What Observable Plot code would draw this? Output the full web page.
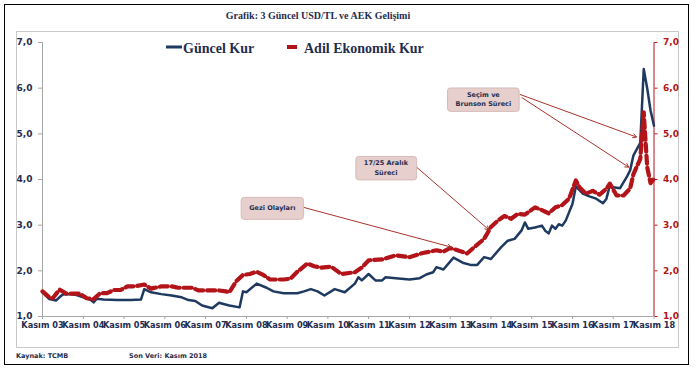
<!DOCTYPE html>
<html><head><meta charset="utf-8">
<script src="https://cdn.jsdelivr.net/npm/d3@7"></script>
<script src="https://cdn.jsdelivr.net/npm/@observablehq/plot@0.6"></script>
<style>
body{margin:0;background:#fff;}
#wrap{position:relative;width:698px;height:370px;overflow:hidden;background:#fff;}
#chart,#overlay{position:absolute;left:0;top:0;}
.outer{position:absolute;left:4px;top:4px;width:685px;height:361px;border:1.5px solid #000;box-sizing:border-box;pointer-events:none;}
.inner{position:absolute;left:16px;top:31px;width:663px;height:317px;border:1px solid #c8c8c8;box-sizing:border-box;pointer-events:none;}
</style></head>
<body>
<div id="wrap">
  <div class="inner"></div>
  <div id="chart"></div>
  <svg id="overlay" width="698" height="370"></svg>
  <div class="outer"></div>
</div>
<script>
// ---- data ----
const kurMonths = ["2003-11","2004-01","2004-03","2004-04","2004-05","2004-07","2004-09","2004-11","2005-01","2005-02","2005-03","2005-05","2005-09","2006-01","2006-04","2006-05","2006-07","2006-10","2007-01","2007-04","2007-06","2007-08","2007-10","2008-01","2008-03","2008-04","2008-06","2008-09","2008-10","2008-11","2009-02","2009-05","2009-07","2009-10","2010-02","2010-04","2010-06","2010-08","2010-10","2011-01","2011-04","2011-07","2011-08","2011-09","2011-11","2012-01","2012-03","2012-04","2012-07","2012-11","2013-02","2013-04","2013-06","2013-07","2013-09","2013-12","2014-03","2014-05","2014-07","2014-09","2014-11","2015-02","2015-04","2015-06","2015-08","2015-09","2015-10","2015-12","2016-02","2016-03","2016-04","2016-05","2016-06","2016-07","2016-08","2016-09","2016-11","2016-12","2017-02","2017-04","2017-06","2017-08","2017-09","2017-10","2017-11","2018-01","2018-03","2018-04","2018-05","2018-07","2018-08","2018-09","2018-10","2018-11"];
const kurValues = [1.53,1.38,1.35,1.42,1.48,1.49,1.47,1.42,1.37,1.31,1.39,1.37,1.36,1.36,1.37,1.60,1.53,1.49,1.46,1.42,1.36,1.34,1.24,1.18,1.30,1.28,1.24,1.20,1.55,1.53,1.72,1.63,1.55,1.51,1.51,1.55,1.60,1.55,1.46,1.60,1.53,1.72,1.86,1.79,1.93,1.79,1.79,1.86,1.84,1.81,1.84,1.92,1.97,2.08,2.03,2.29,2.17,2.13,2.13,2.30,2.26,2.52,2.66,2.70,2.88,3.06,2.92,2.95,2.99,2.88,2.82,2.99,2.92,3.02,2.99,3.10,3.47,3.85,3.69,3.63,3.58,3.48,3.58,3.87,3.83,3.81,4.05,4.20,4.53,4.80,6.42,6.00,5.51,5.18];

const aekMonths = ["2003-11","2004-01","2004-02","2004-04","2004-06","2004-10","2004-12","2005-02","2005-04","2005-06","2005-08","2005-10","2005-12","2006-02","2006-05","2006-07","2006-10","2007-01","2007-03","2007-07","2007-09","2008-03","2008-05","2008-06","2008-08","2008-10","2008-12","2009-02","2009-04","2009-06","2009-10","2009-12","2010-02","2010-05","2010-07","2010-09","2010-12","2011-03","2011-07","2011-09","2011-11","2012-03","2012-07","2012-11","2013-03","2013-07","2013-09","2013-11","2014-02","2014-04","2014-06","2014-09","2014-11","2015-01","2015-03","2015-05","2015-07","2015-09","2015-12","2016-02","2016-04","2016-06","2016-08","2016-10","2016-12","2017-01","2017-03","2017-05","2017-07","2017-09","2017-10","2017-12","2018-02","2018-04","2018-05","2018-07","2018-08","2018-09","2018-10","2018-11"];
const aekValues = [1.55,1.42,1.40,1.59,1.50,1.50,1.40,1.38,1.51,1.51,1.58,1.58,1.66,1.66,1.70,1.61,1.66,1.66,1.63,1.63,1.57,1.57,1.55,1.53,1.77,1.91,1.93,1.98,1.91,1.81,1.81,1.83,1.98,2.16,2.10,2.07,2.09,1.93,1.97,2.07,2.23,2.25,2.34,2.30,2.39,2.45,2.42,2.50,2.43,2.38,2.51,2.70,2.96,3.10,3.20,3.14,3.25,3.23,3.39,3.33,3.26,3.39,3.44,3.58,3.98,3.83,3.69,3.75,3.67,3.80,3.91,3.65,3.65,3.80,4.12,4.45,5.47,4.27,3.92,4.02];

const tickYears = d3.range(2003, 2019);
const yTicks = [1, 2, 3, 4, 5, 6, 7];

const noteLabels = ["Gezi Olayları", "17/25 Aralık\nSüreci", "Seçim ve\nBrunson Süreci"];
const noteDates = ["2009-06-21", "2012-04-04", "2014-08-25"];
const noteValues = [3.39, 4.27, 5.77];

const arrowFromDates = ["2010-03-28", "2013-01-04", "2015-07-22", "2015-08-07"];
const arrowFromValues = [3.39, 4.27, 5.86, 5.79];
const arrowToDates = ["2013-11-10", "2014-10-13", "2018-05-28", "2018-03-19"];
const arrowToValues = [2.52, 2.90, 4.93, 4.27];

// ---- build ----
const parseM = d3.utcParse("%Y-%m");
const parseD = d3.utcParse("%Y-%m-%d");
const kur = kurMonths.map((m, i) => ({date: parseM(m), value: kurValues[i]}));
const aek = aekMonths.map((m, i) => ({date: parseM(m), value: aekValues[i]}));
const notes = noteLabels.map((l, i) => ({label: l, date: parseD(noteDates[i]), value: noteValues[i]}));
const arrows = arrowFromDates.map((d, i) => ({
  x1: parseD(d), y1: arrowFromValues[i], x2: parseD(arrowToDates[i]), y2: arrowToValues[i]
}));
const ticks = tickYears.map(y => new Date(Date.UTC(y, 10, 1)));
const fmtY = d => d.toFixed(1).replace(".", ",");

const navy = "#1f2d50", red = "#b31419", lineBlue = "#1f3a60", grey = "#a6a6a6";

const chart = Plot.plot({
  width: 698, height: 370,
  marginLeft: 42, marginRight: 44.5, marginTop: 42, marginBottom: 54,
  style: {fontFamily: "'DejaVu Sans', sans-serif", fontWeight: "bold", fontSize: "9px", color: navy, background: "transparent", overflow: "visible"},
  x: {type: "utc", domain: [ticks[0], ticks[ticks.length - 1]]},
  y: {domain: [1, 7]},
  marks: [
    Plot.ruleY([1], {stroke: grey}),
    Plot.ruleX([ticks[0]], {stroke: grey}),
    Plot.ruleX([ticks[ticks.length - 1]], {stroke: red}),
    Plot.axisX({ticks, tickFormat: d => "Kasım " + String(d.getUTCFullYear()).slice(2), tickSize: 3, tickPadding: 3,
      stroke: grey, fill: navy, fontSize: 8.2, label: null}),
    Plot.axisY({anchor: "left", ticks: yTicks, tickFormat: fmtY, tickSize: 4, tickPadding: 6, stroke: grey, fill: navy, label: null}),
    Plot.axisY({anchor: "right", ticks: yTicks, tickFormat: fmtY, tickSize: 3, tickPadding: 6, stroke: red, fill: red, label: null}),
    Plot.line(kur, {x: "date", y: "value", stroke: lineBlue, strokeWidth: 2.5}),
    Plot.line(aek, {x: "date", y: "value", stroke: red, strokeWidth: 4.2, strokeDasharray: "8,4"}),
    Plot.arrow(arrows, {x1: "x1", y1: "y1", x2: "x2", y2: "y2", stroke: "#a8332b", strokeWidth: 1, headLength: 6}),
    Plot.text(notes, {x: "date", y: "value", text: "label", fontSize: 6.5, fontWeight: "bold", fill: navy, lineHeight: 1.45})
  ]
});
document.getElementById("chart").appendChild(chart);

// label boxes behind annotation texts (the only plain "text" mark in the chart)
const NS = "http://www.w3.org/2000/svg";
chart.querySelectorAll('g[aria-label="text"] text').forEach(t => {
  const b = t.getBBox();
  const h = Math.max(b.height + 6, 22);
  const r = document.createElementNS(NS, "rect");
  r.setAttribute("x", b.x - 8);
  r.setAttribute("y", b.y + b.height / 2 - h / 2);
  r.setAttribute("width", b.width + 16);
  r.setAttribute("height", h);
  r.setAttribute("rx", 3);
  r.setAttribute("fill", "#e6cfcc");
  r.setAttribute("stroke", "#d6bcb8");
  r.setAttribute("stroke-width", 1);
  const tr = t.getAttribute("transform");
  if (tr) r.setAttribute("transform", tr);
  t.parentNode.insertBefore(r, t);
});

// title, legend, footer
const ov = d3.select("#overlay");
ov.append("text").attr("x", 318).attr("y", 19).attr("text-anchor", "middle")
  .attr("font-family", "'Liberation Serif', serif").attr("font-weight", "bold").attr("font-size", 10)
  .attr("fill", navy).text("Grafik: 3 Güncel USD/TL ve AEK Gelişimi");
ov.append("line").attr("x1", 166).attr("x2", 182).attr("y1", 47).attr("y2", 47).attr("stroke", lineBlue).attr("stroke-width", 3);
ov.append("text").attr("x", 183).attr("y", 52.5).attr("font-family", "'Liberation Serif', serif").attr("font-weight", "bold")
  .attr("font-size", 14).attr("fill", navy).text("Güncel Kur");
ov.append("line").attr("x1", 287).attr("x2", 297).attr("y1", 47).attr("y2", 47).attr("stroke", red).attr("stroke-width", 4);
ov.append("text").attr("x", 304).attr("y", 52.5).attr("font-family", "'Liberation Serif', serif").attr("font-weight", "bold")
  .attr("font-size", 14).attr("fill", navy).text("Adil Ekonomik Kur");
ov.append("text").attr("x", 16).attr("y", 358).attr("font-family", "'DejaVu Sans', sans-serif").attr("font-weight", "bold")
  .attr("font-size", 6.5).attr("fill", navy).text("Kaynak: TCMB");
ov.append("text").attr("x", 129).attr("y", 358).attr("font-family", "'DejaVu Sans', sans-serif").attr("font-weight", "bold")
  .attr("font-size", 6.5).attr("fill", navy).text("Son Veri: Kasım 2018");
</script>
</body></html>
